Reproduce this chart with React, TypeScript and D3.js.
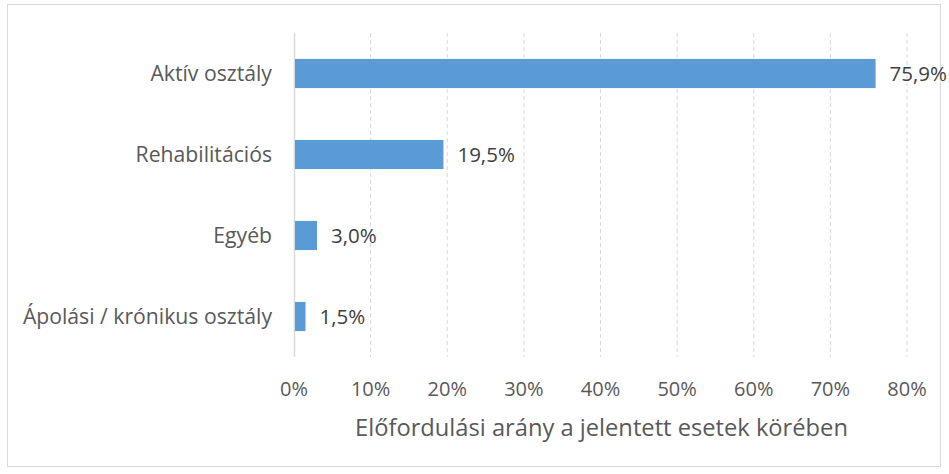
import * as d3 from "d3";

const categories = ["Aktív osztály", "Rehabilitációs", "Egyéb", "Ápolási / krónikus osztály"];
const values = [75.9, 19.5, 3.0, 1.5];
const valueLabels = ["75,9%", "19,5%", "3,0%", "1,5%"];
const xTicks = [0, 10, 20, 30, 40, 50, 60, 70, 80];
const axisTitle = "Előfordulási arány a jelentett esetek körében";

const WIDTH = 949;
const HEIGHT = 474;
const MARGIN = { top: 33, right: 42, bottom: 117, left: 294 };
const FONT = "'Open Sans', 'Liberation Sans', sans-serif";
const TEXT_COLOR = "#595959";

export default function App() {
  const innerW = WIDTH - MARGIN.left - MARGIN.right;
  const innerH = HEIGHT - MARGIN.top - MARGIN.bottom;

  const x = d3.scaleLinear().domain([0, 80]).range([0, innerW]);
  const y = d3.scaleBand().domain(categories).range([0, innerH]).paddingInner(0.64).paddingOuter(0.32);

  return (
    <svg
      width={WIDTH}
      height={HEIGHT}
      style={{ position: "absolute", left: 0, top: 0, fontFamily: FONT }}
    >
      <rect x={0} y={0} width={WIDTH} height={HEIGHT} fill="#fff" />
      <rect x={7.5} y={4.5} width={933} height={462} fill="#fff" stroke="#d9d9d9" />
      <g transform={`translate(${MARGIN.left},${MARGIN.top})`}>
        {/* dashed vertical gridlines */}
        {xTicks.map((t) =>
          t === 0 ? null : (
            <line
              key={t}
              x1={x(t)}
              x2={x(t)}
              y1={0}
              y2={innerH}
              stroke="#d9d9d9"
              strokeWidth={1}
              strokeDasharray="4 3"
            />
          )
        )}
        <line x1={0.5} x2={0.5} y1={0} y2={innerH} stroke="#d9d9d9" strokeWidth={1.5} />
        {categories.map((c, i) => (
          <g key={c}>
            <rect
              x={1}
              y={y(c)}
              width={x(values[i]) - 1}
              height={y.bandwidth()}
              fill="#5b9bd5"
            />
            <text
              x={x(values[i]) + 14}
              y={(y(c) as number) + y.bandwidth() / 2}
              dy="0.35em"
              fontSize={20.5}
              fill="#404040"
            >
              {valueLabels[i]}
            </text>
            <text
              x={-22}
              y={(y(c) as number) + y.bandwidth() / 2}
              dy="0.35em"
              textAnchor="end"
              fontSize={21.2}
              fill={TEXT_COLOR}
            >
              {c}
            </text>
          </g>
        ))}
        {xTicks.map((t) => (
          <text
            key={t}
            x={x(t)}
            y={innerH + 32}
            dy="0.35em"
            textAnchor="middle"
            fontSize={20}
            fill={TEXT_COLOR}
          >
            {t}%
          </text>
        ))}
        <text
          x={innerW / 2 + 1}
          y={innerH + 71}
          dy="0.35em"
          textAnchor="middle"
          fontSize={23.7}
          fill={TEXT_COLOR}
        >
          {axisTitle}
        </text>
      </g>
    </svg>
  );
}
